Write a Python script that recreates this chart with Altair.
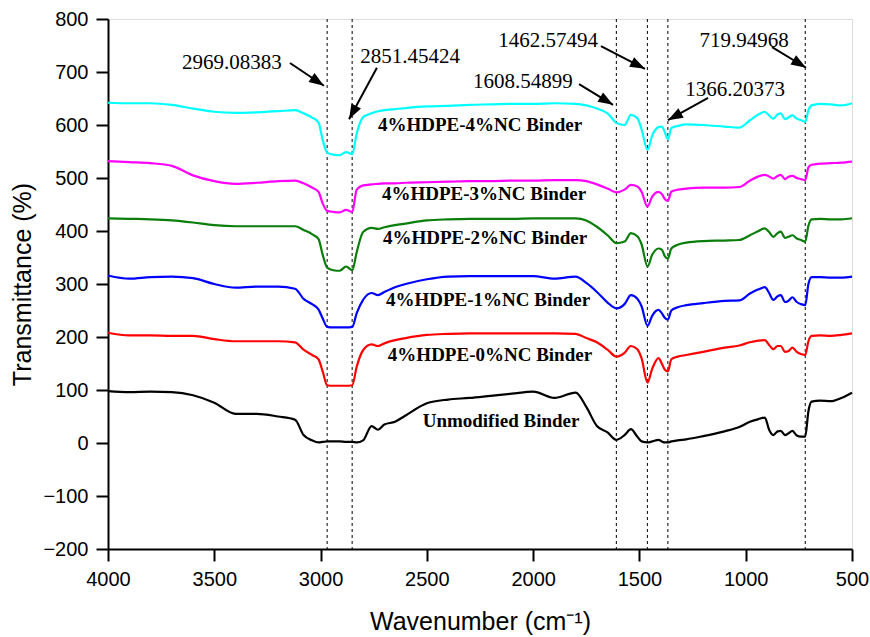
import altair as alt
import pandas as pd
import numpy as np

# ---- data ----
wavenumber = [4000, 3900, 3800, 3700, 3600, 3500, 3400, 3300, 3200,
              3120, 3080, 3040, 3010, 2990,
              2969, 2940, 2910, 2880, 2851,
              2830, 2800, 2760, 2730, 2700,
              2650, 2600, 2500, 2400, 2300,
              2200, 2100, 2000, 1900, 1800,
              1750, 1700, 1650, 1608, 1570,
              1540, 1510, 1490, 1462, 1440,
              1410, 1395, 1380, 1366, 1350,
              1320, 1280, 1200, 1100, 1030,
              980, 940, 910, 890, 870,
              850, 835, 815, 800, 780,
              760, 740, 720, 705, 690,
              650, 600, 550, 500]

hdpe4_nc4 = [642, 641, 641, 638, 631, 625, 623, 624, 626,
             628, 622, 614, 605, 572,
             548, 544, 543, 549, 545,
             584, 615, 622, 626, 628,
             630, 632, 635, 636, 638,
             639, 640, 640, 641, 640,
             637, 631, 622, 604, 600,
             619, 613, 592, 553, 580,
             596, 597, 586, 573, 594,
             598, 601, 600, 597, 595,
             609, 620, 625, 618, 612,
             620, 622, 611, 614, 618,
             612, 609, 606, 628, 637,
             640, 639, 637, 641]

hdpe4_nc3 = [532, 530, 528, 523, 505, 494, 489, 491, 494,
             495, 490, 482, 474, 452,
             438, 436, 435, 440, 436,
             478, 486, 488, 489, 490,
             490, 491, 492, 493, 494,
             494, 495, 495, 496, 496,
             494, 488, 480, 473, 478,
             487, 484, 474, 446, 465,
             474, 470, 460, 457, 474,
             478, 480, 482, 482, 483,
             495, 503, 506, 503, 499,
             504, 506, 498, 502, 504,
             500, 498, 496, 520, 525,
             527, 528, 529, 531]

hdpe4_nc2 = [424, 423, 422, 420, 416, 411, 409, 409, 409,
             409, 402, 394, 385, 355,
             331, 326, 325, 333, 326,
             360, 398, 406, 404, 407,
             411, 414, 420, 422, 423,
             423, 423, 424, 424, 424,
             420, 408, 392, 377, 380,
             396, 390, 375, 333, 355,
             367, 365, 352, 348, 367,
             374, 378, 381, 382, 383,
             392, 400, 405, 398, 389,
             396, 399, 387, 389, 392,
             386, 383, 380, 410, 422,
             423, 422, 422, 424]

hdpe4_nc1 = [316, 310, 313, 314, 311, 300, 293, 295, 295,
             291, 272, 262, 252, 235,
             219, 218, 218, 218, 219,
             245, 270, 283, 279, 285,
             294, 300, 309, 314, 315,
             315, 315, 315, 310, 314,
             302, 285, 265, 254, 262,
             279, 272, 258, 221, 240,
             251, 245, 236, 233, 250,
             256, 260, 264, 268, 269,
             282, 290, 294, 283, 270,
             277, 279, 266, 268, 275,
             266, 262, 260, 300, 313,
             313, 312, 312, 314]

hdpe4_nc0 = [208, 203, 203, 202, 202, 196, 192, 192, 192,
             190, 176, 166, 158, 135,
             109, 108, 108, 108, 109,
             144, 175, 186, 183, 188,
             194, 198, 204, 206, 207,
             207, 207, 207, 207, 206,
             198, 190, 176, 163, 170,
             183, 177, 160, 114, 140,
             160, 150, 138, 135, 158,
             163, 166, 172, 180, 184,
             190, 193, 194, 185, 177,
             183, 183, 172, 173, 180,
             172, 168, 166, 192, 202,
             203, 202, 204, 207]

unmodified = [98, 96, 97, 96, 90, 76, 55, 55, 50,
              44, 15, 5, 1, 2,
              3, 3, 3, 2, 2,
              1, 5, 32, 25, 35,
              40, 52, 75, 82, 85,
              89, 93, 97, 85, 95,
              68, 32, 20, 6, 15,
              26, 12, 3, 1, 3,
              6, 3, 1, 1, 3,
              5, 7, 13, 22, 30,
              40, 45, 48, 25, 15,
              22, 23, 15, 18, 23,
              14, 12, 12, 60, 78,
              80, 79, 85, 95]

series_names = ["4%HDPE-4%NC Binder", "4%HDPE-3%NC Binder", "4%HDPE-2%NC Binder",
                "4%HDPE-1%NC Binder", "4%HDPE-0%NC  Binder", "Unmodified Binder"]
series_values = [hdpe4_nc4, hdpe4_nc3, hdpe4_nc2, hdpe4_nc1, hdpe4_nc0, unmodified]
series_colors = ["#00FFFF", "#FF00FF", "#0A7D0A", "#0000FF", "#FF0000", "#000000"]

# series label positions (data coordinates)
label_x = [2250, 2231, 2226, 2212, 2203, 2151]
label_y = [600, 470, 387, 270, 166, 41]

# marked peaks
peaks = [2969.08383, 2851.45424, 1608.54899, 1462.57494, 1366.20373, 719.94968]
peak_text = ["2969.08383", "2851.45424", "1608.54899", "1462.57494", "1366.20373", "719.94968"]
peak_text_x = [3417, 2579, 2048, 1930, 1050, 1008]
peak_text_y = [717, 728, 681, 758, 666, 758]
arrow_x1 = [3144, 2735, 1784, 1681, 1177, 876]
arrow_y1 = [717, 708, 677, 749, 651, 747]
arrow_x2 = [2984, 2866, 1624, 1474, 1366, 716]
arrow_y2 = [674, 611, 638, 706, 609, 708]

y_ticks = [-200, -100, 0, 100, 200, 300, 400, 500, 600, 700, 800]
x_ticks = [4000, 3500, 3000, 2500, 2000, 1500, 1000, 500]

# ---- layout ----
W, H = 744, 530
X_DOM = [500, 4000]
Y_DOM = [-200, 800]

for v in series_values:
    assert len(v) == len(wavenumber)

rows = []
for name, vals in zip(series_names, series_values):
    for w, t in zip(wavenumber, vals):
        rows.append({"wavenumber": w, "transmittance": t, "series": name})
df = pd.DataFrame(rows)

xscale = alt.Scale(domain=X_DOM, reverse=True, nice=False, zero=False)
yscale = alt.Scale(domain=Y_DOM, nice=False, zero=False)

common_axis = dict(tickSize=12, tickWidth=2, domainWidth=2, domainColor="black",
                   tickColor="black", labelColor="black", labelFont="Liberation Sans",
                   labelFontSize=20, grid=False, titleFont="Liberation Sans",
                   titleFontSize=25, titleFontWeight="normal", titleColor="black",
                   labelFlush=False, labelOverlap=False, format="d")

x_axis = alt.Axis(values=x_ticks, title="Wavenumber (cm\u207b\u00b9)", labelPadding=8,
                  titleY=80, titleBaseline="alphabetic", **common_axis)
y_axis = alt.Axis(values=y_ticks, title="Transmittance (%)", labelPadding=8,
                  titleX=-86, titleBaseline="middle", **common_axis)

lines = alt.Chart(df).mark_line(strokeWidth=2.2, interpolate="monotone").encode(
    x=alt.X("wavenumber:Q", scale=xscale, axis=x_axis),
    y=alt.Y("transmittance:Q", scale=yscale, axis=y_axis),
    color=alt.Color("series:N", scale=alt.Scale(domain=series_names, range=series_colors), legend=None),
)

peak_df = pd.DataFrame({"peak": peaks})
vlines = alt.Chart(peak_df).mark_rule(color="black", strokeWidth=1, strokeDash=[3, 3]).encode(
    x=alt.X("peak:Q", scale=xscale)
)

lab_df = pd.DataFrame({"x": label_x, "y": label_y, "text": series_names})
labels = alt.Chart(lab_df).mark_text(font="Liberation Serif", fontWeight="bold", fontSize=19,
                                     color="black", align="center", baseline="middle").encode(
    x=alt.X("x:Q", scale=xscale), y=alt.Y("y:Q", scale=yscale), text="text:N")

ann_df = pd.DataFrame({"x": peak_text_x, "y": peak_text_y, "text": peak_text})
ann = alt.Chart(ann_df).mark_text(font="Liberation Serif", fontSize=21, color="black",
                                  align="center", baseline="middle").encode(
    x=alt.X("x:Q", scale=xscale), y=alt.Y("y:Q", scale=yscale), text="text:N")

px_per_x = W / (X_DOM[1] - X_DOM[0])
px_per_y = H / (Y_DOM[1] - Y_DOM[0])
dx = (np.array(arrow_x1) - np.array(arrow_x2)) * px_per_x
dy = (np.array(arrow_y1) - np.array(arrow_y2)) * px_per_y
angles = np.degrees(np.arctan2(dx, -dy)) % 360

arr_df = pd.DataFrame({"x1": arrow_x1, "y1": arrow_y1, "x2": arrow_x2, "y2": arrow_y2,
                       "angle": angles})
shafts = alt.Chart(arr_df).mark_rule(color="black", strokeWidth=2).encode(
    x=alt.X("x1:Q", scale=xscale), y=alt.Y("y1:Q", scale=yscale), x2="x2:Q", y2="y2:Q")
heads = alt.Chart(arr_df).mark_point(shape="M0,0L0.36,1L-0.36,1Z", filled=True, color="black",
                                     opacity=1, size=900, strokeWidth=0).encode(
    x=alt.X("x2:Q", scale=xscale), y=alt.Y("y2:Q", scale=yscale),
    angle=alt.Angle("angle:Q", scale=None))

chart = alt.layer(vlines, lines, labels, ann, shafts, heads).properties(
    width=W, height=H,
    autosize=alt.AutoSizeParams(type="none"),
    padding={"left": 108, "top": 19, "right": 18, "bottom": 88},
).configure_view(stroke="black", strokeWidth=2).configure(background="white")

chart.save("out.html", embed_options={"renderer": "svg", "actions": False})
